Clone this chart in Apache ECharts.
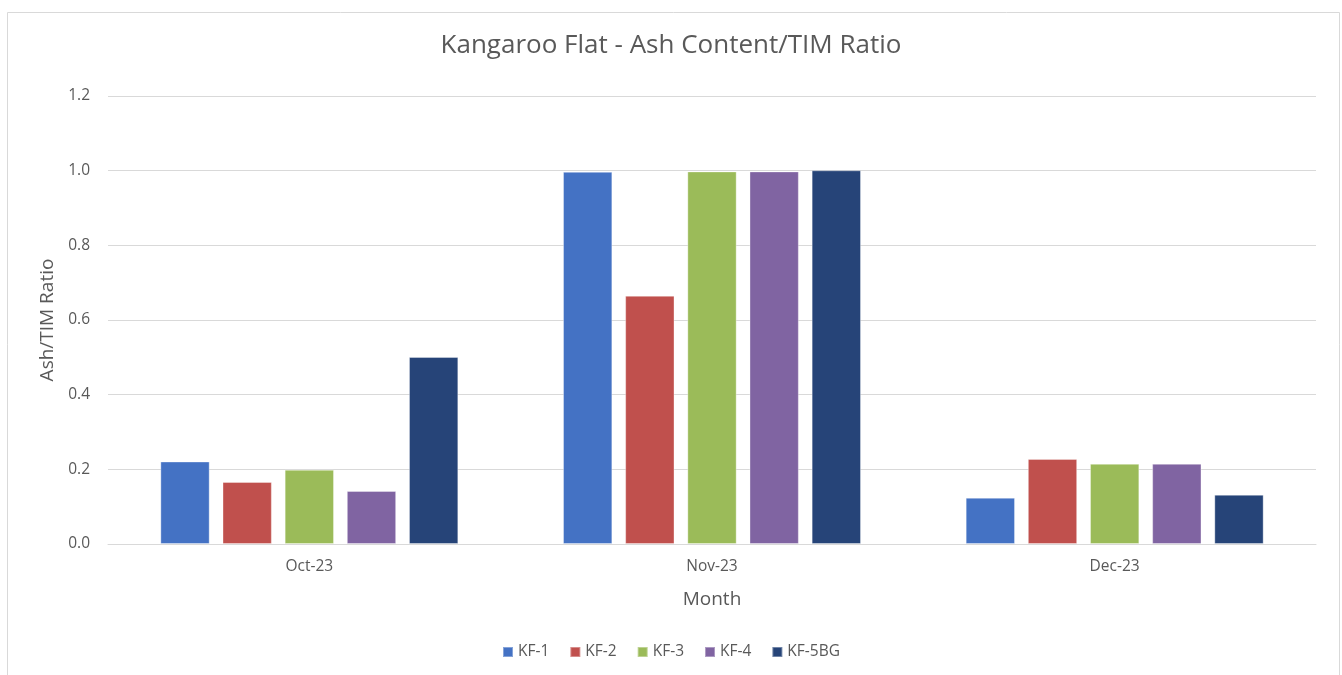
<!DOCTYPE html>
<html>
<head>
<meta charset="utf-8">
<script src="https://cdn.jsdelivr.net/npm/echarts@6/dist/echarts.min.js"></script>
<style>html,body{margin:0;padding:0;background:#fff;}#c{width:1342px;height:675px;}</style>
</head>
<body>
<div id="c"></div>
<script>
const categories = ['Oct-23', 'Nov-23', 'Dec-23'];
const seriesNames = ['KF-1', 'KF-2', 'KF-3', 'KF-4', 'KF-5BG'];
const kf1 = [0.221, 0.997, 0.124];
const kf2 = [0.166, 0.665, 0.228];
const kf3 = [0.199, 0.998, 0.215];
const kf4 = [0.142, 0.998, 0.215];
const kf5bg = [0.501, 1.001, 0.132];
const yTicks = [0, 0.2, 0.4, 0.6, 0.8, 1.0, 1.2];
const colors = ['#4472C4', '#C0504D', '#9BBB59', '#8064A2', '#264478'];

const values = [kf1, kf2, kf3, kf4, kf5bg];
const FONT = '"Open Sans", "Liberation Sans", sans-serif';
const chart = echarts.init(document.getElementById('c'), null, {renderer: 'canvas'});
chart.setOption({
  animation: false,
  backgroundColor: '#fff',
  textStyle: {fontFamily: FONT},
  graphic: [{
    type: 'rect', shape: {x: 7.5, y: 12.5, width: 1332, height: 700},
    style: {fill: 'none', stroke: '#D9D9D9', lineWidth: 1}, silent: true, z: -1
  }],
  title: {
    text: 'Kangaroo Flat - Ash Content/TIM Ratio',
    left: 'center', top: 28,
    textStyle: {fontFamily: FONT, fontSize: 26, fontWeight: 'normal', color: '#595959'}
  },
  legend: {
    data: seriesNames, bottom: 10, left: 680, align: 'left',
    itemWidth: 10, itemHeight: 10, itemGap: 20, icon: 'rect',
    textStyle: {fontFamily: FONT, fontSize: 15.5, color: '#595959'}
  },
  grid: {left: 108, right: 26, top: 96, bottom: 131, containLabel: false},
  xAxis: {
    type: 'category', data: categories,
    name: 'Month', nameLocation: 'middle', nameGap: 46,
    nameTextStyle: {fontFamily: FONT, fontSize: 19, color: '#595959'},
    axisLine: {lineStyle: {color: '#D9D9D9'}},
    axisTick: {show: false},
    axisLabel: {fontFamily: FONT, fontSize: 15.5, color: '#595959', margin: 15}
  },
  yAxis: {
    type: 'value', min: 0, max: 1.2, interval: 0.2,
    name: 'Ash/TIM Ratio', nameLocation: 'middle', nameGap: 50, nameRotate: 90,
    nameTextStyle: {fontFamily: FONT, fontSize: 19, color: '#595959'},
    axisLine: {show: false}, axisTick: {show: false},
    splitLine: {lineStyle: {color: '#D9D9D9'}},
    axisLabel: {fontFamily: FONT, fontSize: 15.5, color: '#595959', margin: 18,
      formatter: v => yTicks.includes(Math.round(v * 10) / 10) ? v.toFixed(1) : ''}
  },
  series: seriesNames.map((n, i) => ({
    name: n, type: 'bar', data: values[i],
    barGap: '26%', barCategoryGap: '26%',
    itemStyle: {color: colors[i], borderColor: 'rgba(255,255,255,0.35)', borderWidth: 1}
  }))
});
chart.setOption({legend: {left: 'center'}});
</script>
</body>
</html>
